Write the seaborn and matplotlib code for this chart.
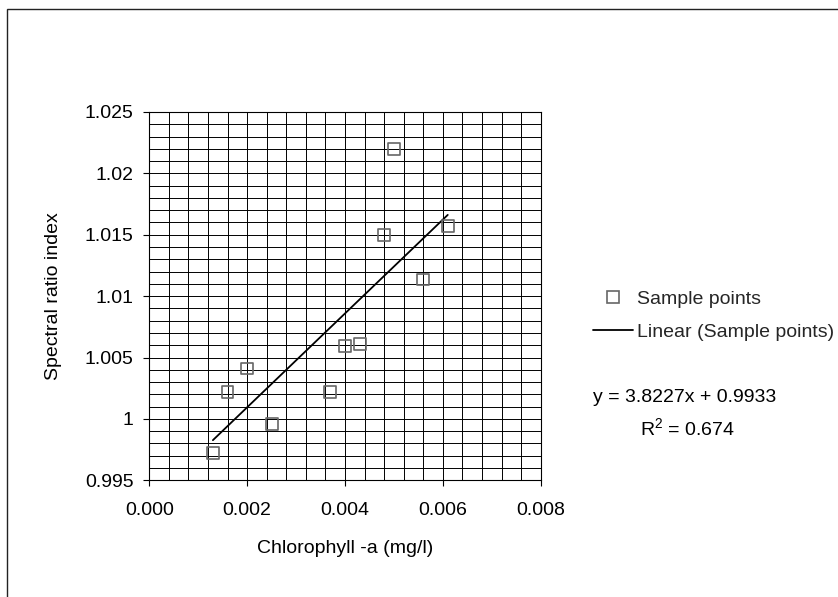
import numpy as np
import pandas as pd
import matplotlib
matplotlib.use("Agg")
import matplotlib.pyplot as plt
import seaborn as sns
from matplotlib.ticker import FixedLocator, FuncFormatter
from matplotlib.lines import Line2D
from matplotlib.patches import Rectangle

# Measured samples
chlorophyll = [0.0013, 0.0016, 0.0020, 0.0025, 0.0037, 0.0040, 0.0043,
               0.0048, 0.0050, 0.0056, 0.0061]
ratio_index = [0.99725, 1.00222, 1.0041, 0.99956, 1.00222, 1.00595, 1.0061,
               1.01497, 1.02198, 1.01135, 1.0157]

# Linear trend reported for the samples
slope = 3.8227
intercept = 0.9933
r_squared = 0.674

x_ticks = [0.000, 0.002, 0.004, 0.006, 0.008]
y_ticks = [0.995, 1.0, 1.005, 1.01, 1.015, 1.02, 1.025]

sns.set_theme(style="white")
plt.rcParams["font.family"] = ["Liberation Sans", "DejaVu Sans"]
plt.rcParams["mathtext.fontset"] = "custom"
plt.rcParams["mathtext.rm"] = "Liberation Sans"
plt.rcParams["mathtext.it"] = "Liberation Sans"

W, H = 838, 597
fig = plt.figure(figsize=(W / 100, H / 100), dpi=100, facecolor="white")
ax = fig.add_axes([149.3 / W, 1 - 480.3 / H, 391.4 / W, 368.3 / H])
ax.set_facecolor("white")

df = pd.DataFrame({"x": chlorophyll, "y": ratio_index})

x_fit = np.array([min(chlorophyll), max(chlorophyll)])
trend = pd.DataFrame({"x": x_fit, "y": slope * x_fit + intercept})

sns.scatterplot(data=df, x="x", y="y", ax=ax, marker="s", s=72,
                facecolor="none", edgecolor="#666666", linewidth=1.2,
                zorder=4, legend=False)
sns.lineplot(data=trend, x="x", y="y", ax=ax, color="black", linewidth=1.3,
             zorder=3, legend=False)

ax.set_xlim(x_ticks[0], x_ticks[-1])
ax.set_ylim(y_ticks[0], y_ticks[-1])
ax.xaxis.set_major_locator(FixedLocator(x_ticks))
ax.yaxis.set_major_locator(FixedLocator(y_ticks))
ax.xaxis.set_minor_locator(FixedLocator(np.linspace(x_ticks[0], x_ticks[-1], 21)))
ax.yaxis.set_minor_locator(FixedLocator(np.linspace(y_ticks[0], y_ticks[-1], 31)))
ax.xaxis.set_major_formatter(FuncFormatter(lambda v, p: f"{v:.3f}"))
ax.yaxis.set_major_formatter(FuncFormatter(lambda v, p: f"{v:g}"))

ax.grid(which="both", color="black", linewidth=0.7)
ax.set_axisbelow(True)
ax.tick_params(which="major", direction="out", length=4.3, width=0.8,
               color="black", labelsize=14, labelcolor="black",
               bottom=True, left=True)
ax.tick_params(axis="x", which="major", pad=11)
ax.tick_params(axis="y", which="major", pad=7)
ax.tick_params(which="minor", length=0)
for sp in ax.spines.values():
    sp.set_color("black")
    sp.set_linewidth(0.8)

ax.set_xlabel("Chlorophyll -a (mg/l)", fontsize=14, color="black")
ax.set_ylabel("Spectral ratio index", fontsize=14, color="black")
ax.xaxis.set_label_coords(0.5, -(540 - 480.3) / 368.3)
ax.yaxis.set_label_coords((62 - 149.3) / 391.4, 0.5)

handles = [
    Line2D([], [], linestyle="none", marker="s", markersize=8.5,
           markerfacecolor="none", markeredgecolor="#666666",
           markeredgewidth=1.2),
    Line2D([], [], color="black", linewidth=1.3),
]
fig.legend(handles, ["Sample points", "Linear (Sample points)"],
           loc="upper left", bbox_to_anchor=(593 / W, 1 - 290 / H),
           bbox_transform=fig.transFigure, frameon=False, fontsize=14,
           handlelength=2.05, handletextpad=0.2, borderpad=0,
           borderaxespad=0, labelspacing=0.8)

fig.text(593 / W, 1 - 398 / H, f"y = {slope}x + {intercept}", fontsize=14,
         ha="left", va="center", color="black")
fig.text(640 / W, 1 - 428 / H, f"R$^2$ = {r_squared}", fontsize=14,
         ha="left", va="center", color="black")

fig.add_artist(Rectangle((7 / W, -0.2), 1.5, 1 - 9 / H + 0.2,
                         transform=fig.transFigure, fill=False,
                         edgecolor="#222222", linewidth=1.0))

fig.savefig("out.png", dpi=100, facecolor="white")
